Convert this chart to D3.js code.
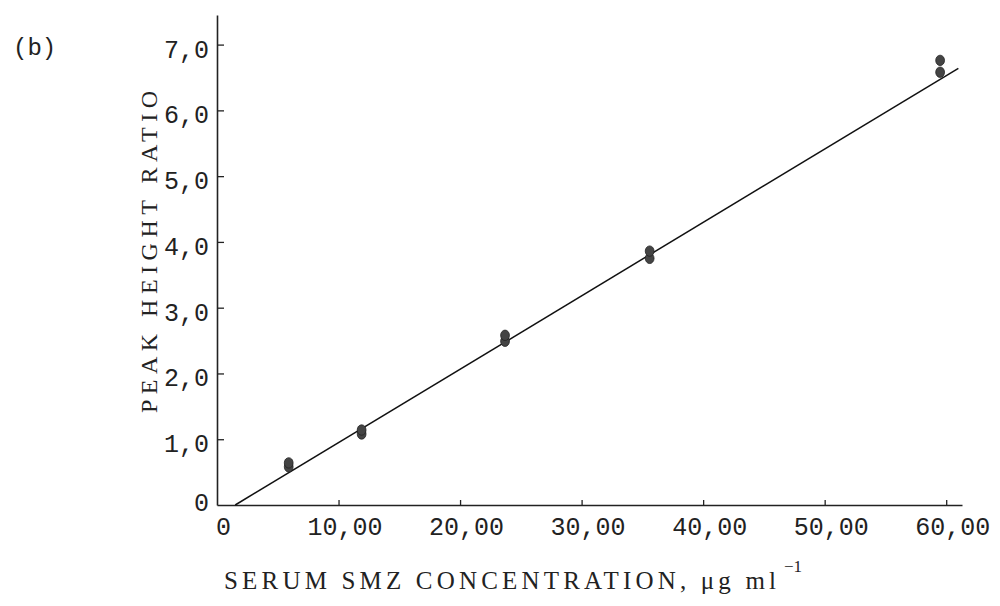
<!DOCTYPE html>
<html>
<head>
<meta charset="utf-8">
<script src="https://cdn.jsdelivr.net/npm/d3@7"></script>
<style>
  body { margin: 0; background: #fff; }
  text { font-family: "Liberation Mono", "DejaVu Sans Mono", monospace; fill: #222; }
  .title { font-family: "Liberation Serif", "DejaVu Serif", serif; }
</style>
</head>
<body>
<div id="chart"></div>
<script>
// measured points (concentration, peak height ratio)
const concentration = [5.9, 5.9, 11.9, 11.9, 23.7, 23.7, 35.6, 35.6, 59.5, 59.5];
const ratio = [0.58, 0.64, 1.08, 1.14, 2.49, 2.58, 3.75, 3.86, 6.58, 6.76];

// fitted regression line end points
const fitX = [1.5, 61.0];
const fitY = [0, 6.64];

const xTicks = [0, 10, 20, 30, 40, 50, 60];
const xTickLabels = ["0", "10,00", "20,00", "30,00", "40,00", "50,00", "60,00"];
const yTicks = [0, 1, 2, 3, 4, 5, 6, 7];
const yTickLabels = ["0", "1,0", "2,0", "3,0", "4,0", "5,0", "6,0", "7,0"];

const width = 1000;
const height = 606;

const x = d3.scaleLinear().domain([0, 61.3]).range([217, 962]);
const y = d3.scaleLinear().domain([0, 7.45]).range([505, 15]);

const svg = d3.select("#chart")
  .append("svg")
  .attr("width", width)
  .attr("height", height);

// axes
const xAxis = svg.append("g")
  .attr("transform", `translate(0,${y(0)})`)
  .call(d3.axisBottom(x)
    .tickValues(xTicks)
    .tickSize(-5)
    .tickSizeOuter(0)
    .tickFormat((d, i) => xTickLabels[i]));
xAxis.select(".domain").attr("stroke", "#222").attr("stroke-width", 1.6);
xAxis.selectAll(".tick line").attr("stroke", "#222").attr("stroke-width", 1.3)
  .attr("display", d => d === 0 ? "none" : null);
xAxis.selectAll(".tick text")
  .attr("y", 12)
  .attr("dy", "0.71em")
  .style("font-size", "25px")
  .attr("fill", "#222")
  .attr("dx", 6);

const yAxis = svg.append("g")
  .attr("transform", `translate(${x(0)},0)`)
  .call(d3.axisLeft(y)
    .tickValues(yTicks)
    .tickSize(-7)
    .tickSizeOuter(0)
    .tickFormat((d, i) => yTickLabels[i]));
yAxis.select(".domain").attr("stroke", "#222").attr("stroke-width", 1.6);
yAxis.selectAll(".tick text")
  .attr("x", -8)
  .attr("dy", d => d === 0 ? "0.2em" : "0.5em")
  .style("font-size", "25px")
  .attr("fill", "#222");
yAxis.selectAll(".tick line").attr("stroke", "#222").attr("stroke-width", 1.3)
  .attr("display", d => d === 0 ? "none" : null);

// regression line
svg.append("line")
  .attr("x1", x(fitX[0]))
  .attr("y1", y(fitY[0]))
  .attr("x2", x(fitX[1]))
  .attr("y2", y(fitY[1]))
  .attr("stroke", "#111")
  .attr("stroke-width", 1.5);

// data points
svg.selectAll("ellipse.pt")
  .data(concentration)
  .enter()
  .append("ellipse")
  .attr("class", "pt")
  .attr("cx", d => x(d))
  .attr("cy", (d, i) => y(ratio[i]))
  .attr("rx", 4.4)
  .attr("ry", 5.2)
  .attr("fill", "#444")
  .attr("stroke", "#222")
  .attr("stroke-width", 0.8);

// axis titles
svg.append("text")
  .attr("class", "title")
  .attr("x", 224)
  .attr("y", 589)
  .attr("textLength", 552)
  .attr("lengthAdjust", "spacing")
  .style("font-size", "25px")
  .text("SERUM SMZ CONCENTRATION, \u03bcg ml");

svg.append("text")
  .attr("class", "title")
  .attr("x", 784)
  .attr("y", 572)
  .style("font-size", "17px")
  .text("\u22121");

svg.append("text")
  .attr("class", "title")
  .attr("transform", "rotate(-90)")
  .attr("x", -413)
  .attr("y", 157)
  .attr("textLength", 322)
  .attr("lengthAdjust", "spacing")
  .style("font-size", "24px")
  .text("PEAK HEIGHT RATIO");

svg.append("text")
  .attr("x", 13)
  .attr("y", 55)
  .style("font-size", "24px")
  .text("(b)");
</script>
</body>
</html>
